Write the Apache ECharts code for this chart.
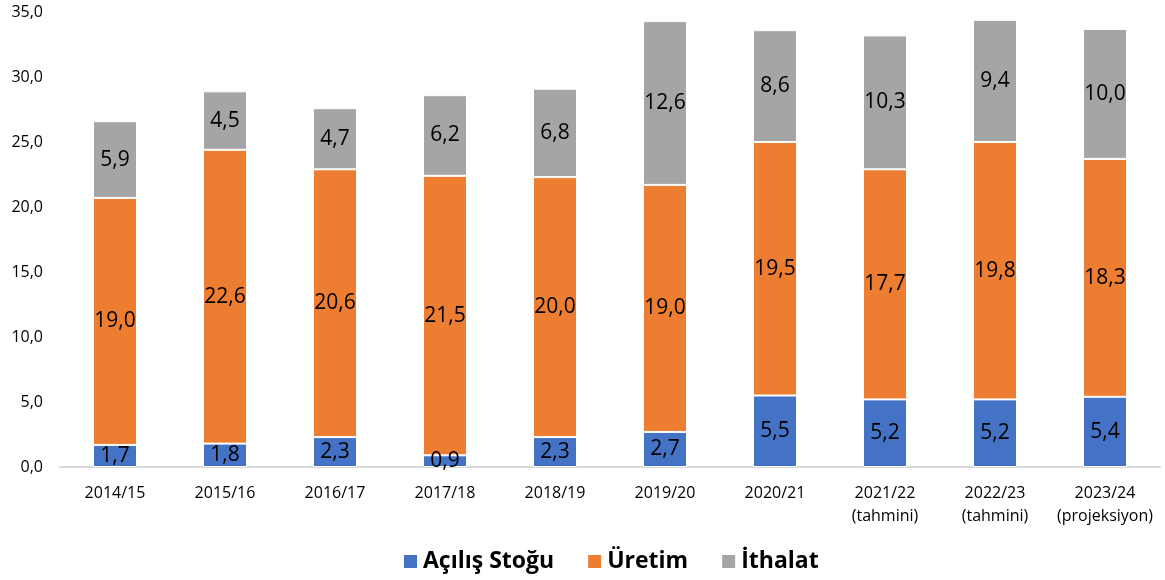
<!DOCTYPE html>
<html>
<head>
<meta charset="utf-8">
<script src="https://cdn.jsdelivr.net/npm/echarts@6/dist/echarts.min.js"></script>
<style>
    html, body { margin: 0; padding: 0; background: #fff; }
    #main { width: 1165px; height: 580px; }
</style>
</head>
<body>
<div id="main"></div>
<script>
// sezonlar
const categories = ['2014/15', '2015/16', '2016/17', '2017/18', '2018/19', '2019/20', '2020/21',
    '2021/22\n(tahmini)', '2022/23\n(tahmini)', '2023/24\n(projeksiyon)']
const acilisStogu = [1.7, 1.8, 2.3, 0.9, 2.3, 2.7, 5.5, 5.2, 5.2, 5.4]
const uretim = [19.0, 22.6, 20.6, 21.5, 20.0, 19.0, 19.5, 17.7, 19.8, 18.3]
const ithalat = [5.9, 4.5, 4.7, 6.2, 6.8, 12.6, 8.6, 10.3, 9.4, 10.0]
const yTicks = [0, 5, 10, 15, 20, 25, 30, 35]

const fontFamily = 'Open Sans, Noto Sans, sans-serif'
const fmt = (v) => v.toFixed(1).replace('.', ',')

const makeSeries = (name, data, color) => {
    return {
        name: name,
        type: 'bar',
        stack: 'toplam',
        barWidth: '40%',
        itemStyle: {
            color: color,
            borderColor: '#ffffff',
            borderWidth: 1,
        },
        label: {
            show: true,
            position: 'inside',
            color: '#000',
            fontSize: 21,
            fontFamily: fontFamily,
            formatter: (p) => fmt(p.value),
        },
        data: data,
    }
}

let myChart = echarts.init(document.getElementById('main'))
let option = {
    animation: false,
    textStyle: { fontFamily: fontFamily },
    legend: {
        bottom: 2,
        left: 397,
        itemWidth: 15,
        itemHeight: 15,
        itemGap: 32,
        icon: 'rect',
        textStyle: {
            fontSize: 23,
            fontWeight: 'bold',
            color: '#000',
            fontFamily: fontFamily,
        },
        data: ['Açılış Stoğu', 'Üretim', 'İthalat'],
    },
    grid: {
        left: 60,
        right: 5,
        top: 12,
        bottom: 113,
    },
    xAxis: {
        type: 'category',
        data: categories,
        axisTick: { show: false },
        axisLine: { lineStyle: { color: '#D9D9D9', width: 2 } },
        axisLabel: {
            color: '#000',
            fontSize: 16,
            lineHeight: 23,
            margin: 15,
            interval: 0,
            fontFamily: fontFamily,
        },
    },
    yAxis: {
        type: 'value',
        min: 0,
        max: 35,
        interval: 5,
        splitLine: { show: false },
        axisLine: { show: false },
        axisTick: { show: false },
        axisLabel: {
            color: '#000',
            fontSize: 16,
            margin: 17,
            fontFamily: fontFamily,
            formatter: (v) => yTicks.includes(v) ? fmt(v) : '',
        },
    },
    series: [
        makeSeries('Açılış Stoğu', acilisStogu, '#4472C4'),
        makeSeries('Üretim', uretim, '#ED7D31'),
        makeSeries('İthalat', ithalat, '#A5A5A5'),
    ],
}
myChart.setOption(option)
window.addEventListener('resize', myChart.resize)
</script>
</body>
</html>
